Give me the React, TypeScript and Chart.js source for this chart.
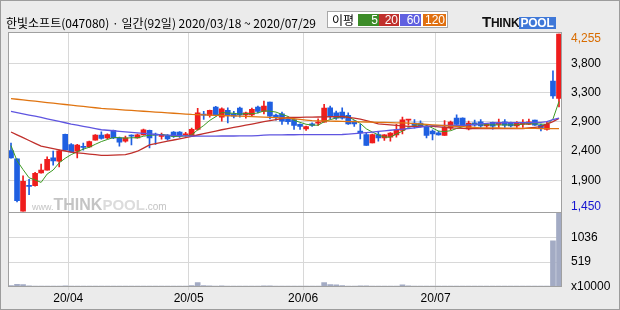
import React, { useEffect, useRef } from 'react';
import { Chart, registerables } from 'chart.js';

Chart.register(...registerables);

// ---- trading days (2020) ----
const marDays = [18, 19, 20, 23, 24, 25, 26, 27, 30, 31];
const aprDays = [1, 2, 3, 6, 7, 8, 9, 10, 13, 14, 16, 17, 20, 21, 22, 23, 24, 27, 28, 29];
const mayDays = [4, 6, 7, 8, 11, 12, 13, 14, 15, 18, 19, 20, 21, 22, 25, 26, 27, 28, 29];
const junDays = [1, 2, 3, 4, 5, 8, 9, 10, 11, 12, 15, 16, 17, 18, 19, 22, 23, 24, 25, 26, 29, 30];
const julDays = [1, 2, 3, 6, 7, 8, 9, 10, 13, 14, 15, 16, 17, 20, 21, 22, 23, 24, 27, 28, 29];

// ---- OHLC ----
const openPrices = [
  2412, 2279, 1450, 1857, 1854, 2057, 2100, 2295, 2242, 2666,
  2507, 2401, 2469, 2469, 2575, 2654, 2612, 2729, 2612, 2559,
  2654, 2612, 2659, 2729, 2670, 2634, 2649, 2702, 2702, 2660,
  2639, 2745, 2987, 2967, 3098, 2940, 3046, 2992, 3082, 2976,
  2976, 3098, 3030, 3177, 2971, 2992, 2913, 2903, 2824, 2755,
  2834, 2845, 2861, 3087, 3008, 3019, 2967, 2876, 2718, 2665,
  2533, 2665, 2612, 2623, 2659, 2729, 2892, 2845, 2845, 2792,
  2718, 2691, 2649, 2771, 2924, 2924, 2755, 2850, 2866, 2802,
  2856, 2824, 2866, 2856, 2802, 2824, 2824, 2892, 2813, 2745,
  3510, 3236,
];
const highPrices = [
  2528, 2279, 2010, 1957, 2068, 2195, 2310, 2401, 2417, 2670,
  2520, 2510, 2528, 2560, 2665, 2707, 2675, 2735, 2625, 2639,
  2659, 2670, 2750, 2735, 2686, 2686, 2665, 2710, 2710, 2700,
  2765, 3078, 3030, 3051, 3109, 3087, 3087, 3030, 3098, 3019,
  3082, 3114, 3193, 3177, 2987, 3019, 2940, 2910, 2834, 2800,
  2850, 2913, 3141, 3114, 3035, 3087, 3008, 2885, 2824, 2691,
  2670, 2713, 2665, 2695, 2824, 2940, 2903, 2903, 2880, 2810,
  2740, 2718, 2887, 2877, 2976, 2930, 2877, 2892, 2903, 2840,
  2860, 2908, 2903, 2860, 2871, 2903, 2908, 2895, 2829, 2866,
  3674, 4255,
];
const lowPrices = [
  2290, 1600, 1450, 1714, 1846, 2052, 2100, 2179, 2152, 2417,
  2380, 2295, 2417, 2460, 2575, 2590, 2596, 2600, 2480, 2544,
  2501, 2605, 2655, 2454, 2507, 2590, 2575, 2620, 2620, 2640,
  2630, 2734, 2903, 2940, 2956, 2876, 2849, 2929, 2940, 2924,
  2956, 3008, 2992, 2913, 2892, 2824, 2829, 2745, 2745, 2729,
  2792, 2808, 2861, 2913, 2903, 2908, 2824, 2792, 2596, 2491,
  2530, 2559, 2570, 2559, 2623, 2676, 2813, 2766, 2780, 2612,
  2580, 2655, 2649, 2739, 2808, 2800, 2739, 2797, 2776, 2776,
  2750, 2776, 2776, 2786, 2776, 2776, 2820, 2810, 2723, 2734,
  3236, 3103,
];
const closePrices = [
  2295, 1616, 1925, 1843, 2052, 2100, 2274, 2247, 2406, 2417,
  2390, 2496, 2460, 2551, 2654, 2602, 2665, 2612, 2544, 2612,
  2639, 2659, 2738, 2612, 2654, 2665, 2596, 2634, 2639, 2670,
  2745, 3008, 2971, 3046, 2967, 3071, 2967, 2956, 2976, 3008,
  3062, 3030, 3114, 2956, 2940, 2876, 2868, 2808, 2792, 2792,
  2808, 2861, 3082, 2956, 2924, 2924, 2834, 2834, 2691, 2491,
  2665, 2612, 2659, 2686, 2738, 2897, 2903, 2808, 2797, 2649,
  2676, 2659, 2781, 2861, 2824, 2808, 2845, 2813, 2802, 2829,
  2797, 2840, 2813, 2802, 2840, 2856, 2866, 2813, 2771, 2824,
  3277, 4255,
];

// ---- moving averages ----
const ma5 = [
  2490, 2250, 2110, 1980, 1946, 1907, 2039, 2103, 2216, 2289,
  2347, 2391, 2434, 2463, 2510, 2553, 2586, 2617, 2615, 2607,
  2614, 2613, 2638, 2652, 2660, 2666, 2653, 2632, 2638, 2641,
  2657, 2739, 2807, 2888, 2947, 3013, 3004, 3001, 2987, 2996,
  2994, 3006, 3038, 3034, 3020, 2983, 2951, 2890, 2857, 2827,
  2814, 2812, 2867, 2900, 2926, 2949, 2944, 2894, 2841, 2755,
  2703, 2659, 2624, 2623, 2672, 2718, 2777, 2806, 2829, 2811,
  2767, 2718, 2712, 2725, 2760, 2787, 2824, 2830, 2818, 2819,
  2817, 2816, 2816, 2816, 2818, 2830, 2835, 2835, 2829, 2826,
  2910, 3188,
];
const ma20 = [
  2705, 2660, 2615, 2570, 2525, 2480, 2461, 2442, 2423, 2404,
  2385, 2375, 2365, 2355, 2345, 2335, 2335, 2338, 2341, 2345,
  2372, 2400, 2450, 2500, 2520, 2540, 2560, 2578, 2597, 2615,
  2634, 2657, 2680, 2700, 2720, 2740, 2758, 2776, 2794, 2812,
  2830, 2848, 2867, 2885, 2902, 2918, 2935, 2936, 2937, 2939,
  2940, 2942, 2944, 2946, 2948, 2950, 2937, 2923, 2910, 2885,
  2859, 2834, 2826, 2817, 2809, 2800, 2792, 2792, 2792, 2792,
  2792, 2785, 2777, 2770, 2766, 2761, 2757, 2757, 2757, 2757,
  2757, 2757, 2757, 2757, 2757, 2757, 2768, 2779, 2790, 2830,
  2870, 2920,
];
const ma60 = [
  3030, 3011, 2992, 2973, 2954, 2935, 2914, 2893, 2872, 2851,
  2830, 2812, 2794, 2776, 2758, 2740, 2732, 2724, 2716, 2708,
  2700, 2692, 2684, 2676, 2668, 2660, 2656, 2652, 2648, 2644,
  2640, 2640, 2640, 2640, 2640, 2641, 2641, 2641, 2642, 2642,
  2642, 2648, 2654, 2660, 2660, 2660, 2661, 2661, 2662, 2662,
  2662, 2663, 2663, 2664, 2664, 2665, 2672, 2679, 2686, 2695,
  2704, 2713, 2722, 2732, 2741, 2751, 2760, 2771, 2783, 2794,
  2805, 2806, 2807, 2808, 2809, 2810, 2818, 2826, 2834, 2842,
  2850, 2851, 2852, 2852, 2853, 2854, 2854, 2855, 2856, 2870,
  2900, 2925,
];
const ma120 = [
  3233, 3223, 3212, 3202, 3192, 3181, 3171, 3161, 3150, 3140,
  3130, 3119, 3109, 3099, 3088, 3078, 3072, 3065, 3059, 3052,
  3046, 3040, 3033, 3027, 3020, 3014, 3008, 3001, 2995, 2988,
  2982, 2979, 2975, 2972, 2969, 2966, 2962, 2959, 2956, 2952,
  2948, 2944, 2940, 2936, 2932, 2928, 2924, 2914, 2904, 2894,
  2884, 2882, 2880, 2877, 2875, 2873, 2870, 2868, 2866, 2863,
  2861, 2858, 2856, 2853, 2850, 2848, 2845, 2838, 2832, 2825,
  2818, 2812, 2805, 2799, 2794, 2788, 2782, 2777, 2771, 2770,
  2769, 2768, 2767, 2766, 2764, 2763, 2762, 2761, 2760, 2759,
  2758, 2757,
];

// ---- volume (x10000 shares) ----
const volumes = [
  30, 55, 50, 22, 20, 18, 20, 16, 18, 22,
  15, 14, 12, 14, 18, 15, 12, 14, 13, 12,
  11, 12, 15, 14, 11, 10, 11, 12, 10, 11,
  28, 92, 30, 22, 20, 24, 18, 14, 15, 12,
  16, 14, 22, 24, 14, 16, 12, 14, 11, 10,
  10, 14, 92, 48, 45, 28, 20, 16, 22, 24,
  16, 14, 12, 14, 20, 45, 22, 16, 14, 18,
  14, 10, 20, 18, 16, 14, 16, 12, 11, 10,
  11, 12, 10, 10, 12, 13, 12, 11, 12, 18,
  960, 1543,
];

// ---- axes ----
const priceMin = 1434;
const priceMax = 4287;
const priceTicks = [1930, 2401, 2865, 3331, 3791];
const priceTickLabels = ['1,900', '2,400', '2,900', '3,300', '3,800'];
const volMax = 1555;
const volTicks = [0, 519, 1036];
const volTickLabels = ['x10000', '519', '1036'];

const maPeriods = ['5', '20', '60', '120'];

const RED = '#ef1d1d';
const BLUE = '#1f5fe1';
const C_MA5 = '#3c9a22';
const C_MA20 = '#c0302c';
const C_MA60 = '#5f55e0';
const C_MA120 = '#e07410';
const LEG_COLORS = ['#3c8c28', '#c0302c', '#6060e0', '#e07010'];
const VOL_C = '#a3abc4';
const GRID = '#d8d8d8';
const BORDER = '#a0a0a0';
const F = '"Liberation Sans", Arial, sans-serif';
const KF = '"Noto Sans CJK KR", "Noto Sans", sans-serif';

const pad = (n: number) => (n < 10 ? '0' + n : '' + n);
const labels: string[] = [];
[[3, marDays], [4, aprDays], [5, mayDays], [6, junDays], [7, julDays]].forEach(([m, days]: any) => {
  (days as number[]).forEach((d) => labels.push(`20/${pad(m)}/${pad(d)}`));
});
const monthStarts = new Set<number>();
labels.forEach((l, i) => {
  if (i > 0 && l.slice(0, 5) !== labels[i - 1].slice(0, 5)) monthStarts.add(i);
});

const fmtNum = (v: number) => v.toLocaleString('en-US');

export default function App() {
  const ref = useRef<HTMLCanvasElement>(null);

  useEffect(() => {
    const canvas = ref.current!;
    const up = closePrices.map((c, i) => c >= openPrices[i]);
    const candleColors = up.map((u) => (u ? RED : BLUE));
    const hiVal = Math.max(...highPrices);
    const loVal = Math.min(...lowPrices);

    const panelPlugin = {
      id: 'panels',
      beforeDraw(chart: any) {
        const { ctx, chartArea: a } = chart;
        ctx.save();
        ctx.fillStyle = '#ffffff';
        ctx.fillRect(a.left, a.top, a.right - a.left, a.bottom - a.top);
        ctx.restore();
      },
      beforeDatasetsDraw(chart: any) {
        const { ctx, chartArea: a } = chart;
        const ys = chart.scales.y;
        ctx.save();
        ctx.textBaseline = 'alphabetic';
        ctx.textAlign = 'left';
        let x = a.left + 24;
        const base = ys.bottom - 2;
        const parts: [string, string, string][] = [
          ['www.', '9px ' + F, '#c4c4c4'],
          ['THINK', 'bold 16px ' + F, '#c4c4c4'],
          ['POOL', 'bold 15px ' + F, '#dcdcdc'],
          ['.com', '10px ' + F, '#c4c4c4'],
        ];
        for (const [t, f, c] of parts) {
          ctx.font = f;
          ctx.fillStyle = c;
          ctx.fillText(t, x, base);
          x += ctx.measureText(t).width;
        }
        ctx.restore();
      },
      afterDraw(chart: any) {
        const { ctx, chartArea: a } = chart;
        const ys = chart.scales.y;
        const yv = chart.scales.yv;
        ctx.save();
        ctx.strokeStyle = BORDER;
        ctx.lineWidth = 1;
        const L = Math.round(a.left) + 0.5;
        const R = Math.round(a.right) - 0.5;
        ctx.strokeRect(L, Math.round(ys.top) + 0.5, R - L, Math.round(ys.bottom) - Math.round(ys.top));
        ctx.strokeRect(L, Math.round(yv.top) + 0.5, R - L, Math.round(yv.bottom) - Math.round(yv.top) - 1);
        ctx.font = '12px ' + F;
        ctx.textBaseline = 'middle';
        ctx.textAlign = 'left';
        const lx = a.right + 9;
        const clamp = (v: number, lo: number, hi: number) => Math.max(lo, Math.min(hi, v));
        ctx.fillStyle = '#d86c00';
        ctx.fillText(fmtNum(hiVal), lx, clamp(ys.getPixelForValue(hiVal), ys.top + 7, ys.bottom - 6));
        ctx.fillStyle = '#1414d0';
        ctx.fillText(fmtNum(loVal), lx, clamp(ys.getPixelForValue(loVal), ys.top + 7, ys.bottom - 6));
        ctx.restore();
      },
    };

    const lineDs = (label: string, data: number[], color: string, width: number) => ({
      type: 'line' as const,
      label,
      data,
      borderColor: color,
      borderWidth: width,
      pointRadius: 0,
      tension: 0,
      yAxisID: 'y',
      order: 0,
    });

    const chart = new Chart(canvas, {
      type: 'bar',
      data: {
        labels,
        datasets: [
          lineDs('MA120', ma120, C_MA120, 1.3),
          lineDs('MA60', ma60, C_MA60, 1.3),
          lineDs('MA20', ma20, C_MA20, 1.3),
          lineDs('MA5', ma5, C_MA5, 1),
          {
            type: 'bar',
            label: 'body',
            data: openPrices.map((o, i) => [o, closePrices[i]]) as any,
            backgroundColor: candleColors,
            barThickness: 5,
            grouped: false,
            minBarLength: 1,
            borderWidth: 0,
            yAxisID: 'y',
            order: 1,
          } as any,
          {
            type: 'bar',
            label: 'wick',
            data: lowPrices.map((l, i) => [l, highPrices[i]]) as any,
            backgroundColor: candleColors,
            barThickness: 1,
            grouped: false,
            borderWidth: 0,
            yAxisID: 'y',
            order: 2,
          } as any,
          {
            type: 'bar',
            label: 'volume',
            data: volumes,
            backgroundColor: VOL_C,
            barThickness: 5,
            grouped: false,
            minBarLength: 1,
            borderWidth: 0,
            yAxisID: 'yv',
            order: 3,
          } as any,
        ],
      },
      options: {
        responsive: false,
        animation: false,
        devicePixelRatio: 1,
        events: [],
        layout: { padding: { top: 32, left: 8, right: 0, bottom: 0 } },
        plugins: { legend: { display: false }, tooltip: { enabled: false } },
        scales: {
          x: {
            type: 'category',
            offset: true,
            grid: {
              offset: true,
              color: (ctx: any) => (monthStarts.has(ctx.index) ? GRID : 'transparent'),
              drawTicks: true,
              tickLength: 3,
              lineWidth: 1,
            },
            border: { display: false },
            ticks: {
              autoSkip: false,
              maxRotation: 0,
              minRotation: 0,
              padding: 1,
              labelOffset: -3,
              color: '#000',
              font: { family: F, size: 12 },
              callback: (_v: any, i: number) =>
                monthStarts.has(i) ? labels[i].slice(0, 5) : '',
            },
            afterFit: (s: any) => {
              s.height = 23;
            },
          } as any,
          y: {
            type: 'linear',
            position: 'right',
            stack: 'panels',
            stackWeight: 180.5,
            min: priceMin,
            max: priceMax,
            afterBuildTicks: (s: any) => {
              s.ticks = priceTicks.map((v) => ({ value: v }));
            },
            grid: { color: GRID, drawTicks: false, lineWidth: 1 },
            border: { display: false },
            ticks: {
              padding: 9,
              color: '#000',
              font: { family: F, size: 12 },
              callback: (_v: any, i: number) => priceTickLabels[i],
            },
            afterFit: (s: any) => {
              s.width = 58;
            },
          } as any,
          yv: {
            type: 'linear',
            position: 'right',
            stack: 'panels',
            stackWeight: 74.8,
            min: 0,
            max: volMax,
            afterBuildTicks: (s: any) => {
              s.ticks = volTicks.map((v) => ({ value: v }));
            },
            grid: {
              color: (ctx: any) => (ctx.tick && ctx.tick.value === 0 ? 'transparent' : GRID),
              drawTicks: false,
              lineWidth: 1,
            },
            border: { display: false },
            ticks: {
              padding: 9,
              color: '#000',
              font: { family: F, size: 12 },
              callback: (_v: any, i: number) => volTickLabels[i],
            },
            afterFit: (s: any) => {
              s.width = 58;
            },
          } as any,
        },
      },
      plugins: [panelPlugin],
    });
    return () => chart.destroy();
  }, []);

  const legendBoxes = [
    { left: 358, width: 21 },
    { left: 379, width: 20 },
    { left: 400, width: 21 },
    { left: 423, width: 23 },
  ];

  return (
    <div
      style={{
        position: 'absolute',
        left: 0,
        top: 0,
        width: 620,
        height: 310,
        background: '#ebebeb',
        overflow: 'hidden',
      }}
    >
      <canvas
        ref={ref}
        width={620}
        height={310}
        style={{ position: 'absolute', left: 0, top: 0, width: 620, height: 310 }}
      />
      <div
        style={{
          position: 'absolute',
          left: 6,
          top: 14,
          height: 18,
          lineHeight: '18px',
          fontFamily: KF,
          fontSize: 12,
          color: '#000',
          whiteSpace: 'nowrap',
        }}
      >
        한빛소프트(047080) · 일간(92일) 2020/03/18 ~ 2020/07/29
      </div>
      <div
        style={{
          position: 'absolute',
          left: 327,
          top: 11,
          width: 121,
          height: 17,
          boxSizing: 'border-box',
          border: '1px solid #a8a8a8',
          background: '#fff',
        }}
      />
      <div
        style={{
          position: 'absolute',
          left: 332,
          top: 11,
          height: 17,
          lineHeight: '17px',
          fontFamily: KF,
          fontSize: 12,
          color: '#000',
        }}
      >
        이평
      </div>
      {maPeriods.map((p, i) => (
        <div
          key={p}
          style={{
            position: 'absolute',
            left: legendBoxes[i].left,
            top: 14,
            width: legendBoxes[i].width,
            height: 12,
            background: LEG_COLORS[i],
            color: '#fff',
            fontFamily: F,
            fontSize: 12,
            lineHeight: '12px',
            textAlign: 'right',
            boxSizing: 'border-box',
            paddingRight: 1,
          }}
        >
          {p}
        </div>
      ))}
      <div
        style={{
          position: 'absolute',
          left: 482,
          top: 12,
          height: 17,
          display: 'flex',
          alignItems: 'flex-end',
          fontFamily: F,
          fontWeight: 'bold',
          whiteSpace: 'nowrap',
        }}
      >
        <span style={{ fontSize: 15, lineHeight: '15px', color: '#111', letterSpacing: -0.3 }}>T</span>
        <span style={{ fontSize: 12, lineHeight: '12px', color: '#111', letterSpacing: -0.2 }}>HINK</span>
        <span
          style={{
            fontSize: 12,
            lineHeight: '12px',
            color: '#fff',
            background: '#3f78d8',
            padding: '0 2px 0 1px',
            letterSpacing: -0.2,
          }}
        >
          POOL
        </span>
      </div>
      <div
        style={{
          position: 'absolute',
          left: 0,
          top: 0,
          width: 620,
          height: 310,
          boxSizing: 'border-box',
          border: '1px solid #9c9c9c',
          pointerEvents: 'none',
        }}
      />
    </div>
  );
}
